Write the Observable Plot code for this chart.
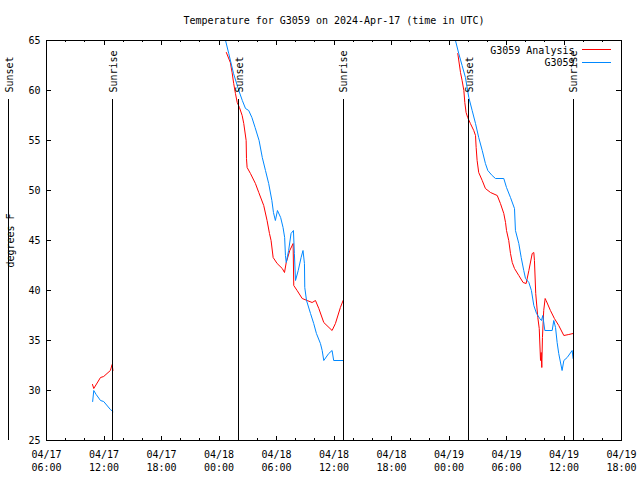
<!DOCTYPE html>
<html><head><meta charset="utf-8">
<script src="https://cdn.jsdelivr.net/npm/d3@7"></script>
<script src="https://cdn.jsdelivr.net/npm/@observablehq/plot@0.6"></script>
<style>body{margin:0;background:#fff}</style>
</head><body><div id="chart"></div>
<script>
const title = "Temperature for G3059 on 2024-Apr-17 (time in UTC)";
const yLabel = "degrees F";
const seriesNames = ["G3059 Analysis", "G3059"];
const seriesColors = ["#ff0000", "#0088ff"];
const xDomain = ["2024-04-17 06:00", "2024-04-19 18:00"];
const yDomain = [25, 65];
const yTicks = [25, 30, 35, 40, 45, 50, 55, 60, 65];
const tickFormat = "%m/%d\n%H:%M";
const sunsetTimes = ["2024-04-17 02:04", "2024-04-18 02:04", "2024-04-19 02:04"];
const sunriseTimes = ["2024-04-17 12:56", "2024-04-18 12:57", "2024-04-19 12:57"];

// [time, °F]; [null, null] marks a gap in the record
const analysisData = [
  ["2024-04-17 10:48", 30.6], ["2024-04-17 10:56", 30.2], ["2024-04-17 11:38", 31.3], ["2024-04-17 11:58", 31.4],
  ["2024-04-17 12:40", 32.0], ["2024-04-17 12:51", 32.6], ["2024-04-17 12:56", 32.0],
  [null, null],
  ["2024-04-18 00:46", 63.8], ["2024-04-18 01:11", 62.8], ["2024-04-18 01:22", 61.8], ["2024-04-18 01:32", 60.7],
  ["2024-04-18 01:43", 59.7], ["2024-04-18 01:54", 58.8], ["2024-04-18 02:08", 58.3], ["2024-04-18 02:25", 57.5],
  ["2024-04-18 02:35", 56.7], ["2024-04-18 02:50", 55.0], ["2024-04-18 02:52", 53.2], ["2024-04-18 02:56", 52.3],
  ["2024-04-18 03:17", 51.7], ["2024-04-18 03:48", 50.7], ["2024-04-18 04:09", 49.8], ["2024-04-18 04:40", 48.5],
  ["2024-04-18 05:01", 47.0], ["2024-04-18 05:16", 45.7], ["2024-04-18 05:26", 45.0], ["2024-04-18 05:39", 43.3],
  ["2024-04-18 06:04", 42.7], ["2024-04-18 06:36", 42.2], ["2024-04-18 06:50", 41.8], ["2024-04-18 07:01", 42.8],
  ["2024-04-18 07:23", 44.0], ["2024-04-18 07:44", 44.7], ["2024-04-18 07:48", 40.5], ["2024-04-18 08:09", 40.0],
  ["2024-04-18 08:41", 39.2], ["2024-04-18 09:12", 39.0], ["2024-04-18 09:43", 38.8], ["2024-04-18 10:04", 39.0],
  ["2024-04-18 10:25", 38.2], ["2024-04-18 10:56", 36.8], ["2024-04-18 11:48", 36.0], ["2024-04-18 12:09", 36.7],
  ["2024-04-18 12:40", 38.3], ["2024-04-18 12:57", 39.0],
  [null, null],
  ["2024-04-19 00:55", 63.7], ["2024-04-19 01:12", 61.8], ["2024-04-19 01:22", 61.0], ["2024-04-19 01:33", 60.0],
  ["2024-04-19 01:39", 58.8], ["2024-04-19 01:47", 57.8], ["2024-04-19 01:57", 57.3], ["2024-04-19 02:14", 56.7],
  ["2024-04-19 02:35", 56.0], ["2024-04-19 02:46", 55.5], ["2024-04-19 02:50", 54.3], ["2024-04-19 02:56", 53.0],
  ["2024-04-19 03:06", 51.8], ["2024-04-19 03:28", 51.0], ["2024-04-19 03:48", 50.2], ["2024-04-19 04:20", 49.8],
  ["2024-04-19 05:02", 49.5], ["2024-04-19 05:22", 48.7], ["2024-04-19 05:43", 47.7], ["2024-04-19 05:54", 46.8],
  ["2024-04-19 06:00", 46.0], ["2024-04-19 06:14", 45.0], ["2024-04-19 06:25", 43.7], ["2024-04-19 06:36", 42.8],
  ["2024-04-19 06:50", 42.2], ["2024-04-19 07:17", 41.5], ["2024-04-19 07:44", 40.8], ["2024-04-19 08:03", 40.7],
  ["2024-04-19 08:20", 42.0], ["2024-04-19 08:41", 43.7], ["2024-04-19 08:51", 43.8], ["2024-04-19 08:55", 43.0],
  ["2024-04-19 09:03", 39.7], ["2024-04-19 09:16", 37.3], ["2024-04-19 09:25", 36.2], ["2024-04-19 09:33", 33.0],
  ["2024-04-19 09:37", 33.8], ["2024-04-19 09:41", 32.3], ["2024-04-19 09:45", 35.3], ["2024-04-19 09:53", 38.0],
  ["2024-04-19 10:02", 39.2], ["2024-04-19 10:08", 39.0], ["2024-04-19 10:35", 38.0], ["2024-04-19 11:00", 37.2],
  ["2024-04-19 11:27", 36.5], ["2024-04-19 11:59", 35.5], ["2024-04-19 12:30", 35.6], ["2024-04-19 12:57", 35.7]
];

const stationData = [
  ["2024-04-17 10:49", 28.9], ["2024-04-17 10:56", 30.0], ["2024-04-17 11:11", 29.6], ["2024-04-17 11:38", 29.0],
  ["2024-04-17 11:58", 28.9], ["2024-04-17 12:40", 28.1], ["2024-04-17 12:56", 27.9],
  [null, null],
  ["2024-04-18 00:31", 65.6], ["2024-04-18 00:41", 65.0], ["2024-04-18 01:01", 63.7], ["2024-04-18 01:31", 61.7],
  ["2024-04-18 02:04", 60.0], ["2024-04-18 02:26", 59.0], ["2024-04-18 02:46", 58.2], ["2024-04-18 03:06", 58.0],
  ["2024-04-18 03:26", 57.3], ["2024-04-18 03:46", 56.3], ["2024-04-18 04:11", 55.0], ["2024-04-18 04:31", 53.3],
  ["2024-04-18 04:51", 52.0], ["2024-04-18 05:11", 50.7], ["2024-04-18 05:31", 49.0], ["2024-04-18 05:41", 47.8],
  ["2024-04-18 05:53", 47.0], ["2024-04-18 06:06", 48.0], ["2024-04-18 06:26", 47.3], ["2024-04-18 06:41", 46.3],
  ["2024-04-18 06:51", 45.3], ["2024-04-18 06:56", 43.5], ["2024-04-18 07:01", 42.8], ["2024-04-18 07:16", 44.0],
  ["2024-04-18 07:31", 45.7], ["2024-04-18 07:46", 46.0], ["2024-04-18 07:52", 43.7], ["2024-04-18 07:59", 41.0],
  ["2024-04-18 08:16", 42.0], ["2024-04-18 08:34", 43.3], ["2024-04-18 08:46", 44.0], ["2024-04-18 08:55", 42.7],
  ["2024-04-18 08:57", 40.3], ["2024-04-18 09:08", 39.0], ["2024-04-18 09:33", 37.7], ["2024-04-18 09:53", 36.7],
  ["2024-04-18 10:10", 35.7], ["2024-04-18 10:35", 34.7], ["2024-04-18 10:46", 34.0], ["2024-04-18 10:56", 33.0],
  ["2024-04-18 11:27", 33.7], ["2024-04-18 11:48", 34.0], ["2024-04-18 11:58", 33.0], ["2024-04-18 12:57", 33.0],
  [null, null],
  ["2024-04-19 00:28", 65.8], ["2024-04-19 01:01", 63.7], ["2024-04-19 01:22", 62.5], ["2024-04-19 01:43", 61.3],
  ["2024-04-19 02:04", 59.3], ["2024-04-19 02:25", 58.0], ["2024-04-19 02:46", 56.7], ["2024-04-19 03:06", 55.3],
  ["2024-04-19 03:28", 54.0], ["2024-04-19 03:48", 52.7], ["2024-04-19 04:03", 52.0], ["2024-04-19 04:30", 51.5],
  ["2024-04-19 04:51", 51.2], ["2024-04-19 05:43", 51.2], ["2024-04-19 06:00", 50.3], ["2024-04-19 06:25", 49.3],
  ["2024-04-19 06:50", 48.2], ["2024-04-19 06:56", 46.0], ["2024-04-19 07:17", 44.7], ["2024-04-19 07:32", 43.3],
  ["2024-04-19 07:48", 42.0], ["2024-04-19 07:59", 41.2], ["2024-04-19 08:20", 40.8], ["2024-04-19 08:36", 40.0],
  ["2024-04-19 08:51", 38.5], ["2024-04-19 09:08", 37.7], ["2024-04-19 09:28", 37.2], ["2024-04-19 09:39", 37.0],
  ["2024-04-19 09:47", 37.5], ["2024-04-19 10:00", 36.0], ["2024-04-19 10:46", 36.0], ["2024-04-19 10:56", 37.0],
  ["2024-04-19 11:07", 36.3], ["2024-04-19 11:17", 34.8], ["2024-04-19 11:27", 33.7], ["2024-04-19 11:48", 32.0],
  ["2024-04-19 11:59", 33.0], ["2024-04-19 12:20", 33.3], ["2024-04-19 12:51", 34.0], ["2024-04-19 12:57", 33.2]
];

const parse = d3.utcParse("%Y-%m-%d %H:%M");
const toRows = (arr) => arr.map(([t, v]) => ({time: t ? parse(t) : null, temp: v}));
const analysis = toRows(analysisData);
const station = toRows(stationData);
const xStart = parse(xDomain[0]), xEnd = parse(xDomain[1]);
const majorTicks = d3.utcHour.every(6).range(xStart, new Date(+xEnd + 1));
const minorTicks = d3.utcHour.every(2).range(xStart, new Date(+xEnd + 1));
const sunsets = sunsetTimes.map(parse);
const sunrises = sunriseTimes.map(parse);

const lineShape = {draw(context, l) { context.moveTo(0, 0); context.lineTo(0, -l); }};
const frameH = 400, frameW = 575;
const crisp = {shapeRendering: "crispEdges"};

const chart = Plot.plot({
  width: 640, height: 480,
  marginTop: 40, marginBottom: 40, marginLeft: 46, marginRight: 19,
  style: {fontFamily: "'DejaVu Sans Mono', monospace", fontSize: "10px", color: "black", background: "white"},
  x: {type: "utc", domain: [xStart, xEnd]},
  y: {domain: yDomain},
  marks: [
    Plot.line(analysis, {x: "time", y: "temp", stroke: seriesColors[0], strokeWidth: 1, clip: "frame"}),
    Plot.line(station, {x: "time", y: "temp", stroke: seriesColors[1], strokeWidth: 1, clip: "frame"}),
    Plot.ruleX(sunsets, {x: d => d, insetTop: 59, stroke: "black", strokeWidth: 1, ...crisp}),
    Plot.ruleX(sunrises, {x: d => d, insetTop: 59, stroke: "black", strokeWidth: 1, ...crisp}),
    Plot.text(sunsets, {x: d => d, text: () => "Sunset", frameAnchor: "top", dy: 52, dx: 1, rotate: -90, textAnchor: "start", lineAnchor: "middle", fill: "black"}),
    Plot.text(sunrises, {x: d => d, text: () => "Sunrise", frameAnchor: "top", dy: 52, dx: 1, rotate: -90, textAnchor: "start", lineAnchor: "middle", fill: "black"}),
    Plot.frame({stroke: "black", strokeWidth: 1, ...crisp}),
    // inward ticks, mirrored on all four sides
    Plot.tickX(majorTicks, {x: d => d, insetTop: frameH - 4.5, stroke: "black", ...crisp}),
    Plot.tickX(minorTicks, {x: d => d, insetTop: frameH - 2, stroke: "black", ...crisp}),
    Plot.tickX(majorTicks, {x: d => d, insetBottom: frameH - 4.5, stroke: "black", ...crisp}),
    Plot.tickX(minorTicks, {x: d => d, insetBottom: frameH - 2, stroke: "black", ...crisp}),
    Plot.tickY(yTicks, {y: d => d, insetRight: frameW - 5, stroke: "black", ...crisp}),
    Plot.tickY(yTicks, {y: d => d, insetLeft: frameW - 5, stroke: "black", ...crisp}),
    Plot.axisX({ticks: majorTicks, tickFormat: d3.utcFormat(tickFormat), tickSize: 0, tickPadding: 8, lineHeight: 1.3, label: null, fill: "black"}),
    Plot.axisY({ticks: yTicks, tickSize: 0, tickPadding: 6, label: null, fill: "black"}),
    Plot.text([yLabel], {text: d => d, frameAnchor: "left", dx: -36, rotate: -90, textAnchor: "middle", lineAnchor: "middle", fill: "black"}),
    Plot.text([title], {text: d => d, frameAnchor: "top", dy: -20, lineAnchor: "middle", fill: "black"}),
    // legend
    Plot.text([seriesNames[0]], {text: d => d, frameAnchor: "top-right", dx: -47, dy: 10, textAnchor: "end", lineAnchor: "middle", fill: "black"}),
    Plot.text([seriesNames[1]], {text: d => d, frameAnchor: "top-right", dx: -47, dy: 22.5, textAnchor: "end", lineAnchor: "middle", fill: "black"}),
    Plot.vector([0], {frameAnchor: "top-right", dx: -39, dy: 9, length: 28, rotate: 90, anchor: "start", shape: lineShape, stroke: seriesColors[0], strokeWidth: 1, ...crisp}),
    Plot.vector([0], {frameAnchor: "top-right", dx: -39, dy: 22, length: 28, rotate: 90, anchor: "start", shape: lineShape, stroke: seriesColors[1], strokeWidth: 1, ...crisp})
  ]
});
document.getElementById("chart").append(chart);
</script>
</body></html>
